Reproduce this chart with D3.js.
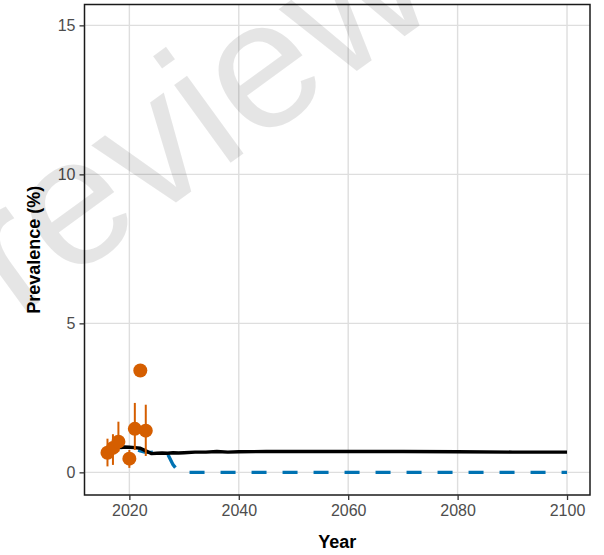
<!DOCTYPE html>
<html>
<head>
<meta charset="utf-8">
<script src="https://cdn.jsdelivr.net/npm/d3@7"></script>
<style>
  html, body { margin: 0; padding: 0; background: #fff; }
  svg { display: block; }
</style>
</head>
<body>
<svg id="chart" width="604" height="555"></svg>
<script>
// ---- data ----
const obsYears  = [2016, 2017, 2018, 2020, 2021, 2022, 2023];
const obsValues = [0.66, 0.82, 1.03, 0.46, 1.46, 3.42, 1.40];
const obsLower  = [0.20, 0.25, 0.70, 0.15, 0.75, 3.42, 0.55];
const obsUpper  = [1.13, 1.28, 1.70, 0.75, 2.33, 3.42, 2.27];

const fitYears  = [2016, 2017, 2018, 2019, 2020, 2021, 2022, 2023, 2024, 2025, 2026, 2027, 2028, 2029, 2030, 2032, 2034, 2036, 2038, 2040, 2045, 2050, 2060, 2070, 2080, 2090, 2100];
const fitValues = [0.78, 0.82, 0.84, 0.85, 0.84, 0.83, 0.81, 0.72, 0.63, 0.64, 0.65, 0.64, 0.66, 0.65, 0.66, 0.68, 0.68, 0.70, 0.68, 0.69, 0.70, 0.70, 0.70, 0.70, 0.69, 0.68, 0.68];

const projYears  = [2016, 2017, 2018, 2019, 2020, 2021, 2022, 2023, 2024, 2025, 2026, 2027, 2028, 2029, 2030, 2040, 2050, 2060, 2070, 2080, 2090, 2100];
const projValues = [0.80, 0.82, 0.83, 0.83, 0.82, 0.78, 0.72, 0.67, 0.67, 0.68, 0.68, 0.62, 0.25, 0.03, 0.00, 0.00, 0.00, 0.00, 0.00, 0.00, 0.00, 0.00];

const xTicks = [2020, 2040, 2060, 2080, 2100];
const yTicks = [0, 5, 10, 15];
const xTitle = "Year";
const yTitle = "Prevalence (%)";
const watermarkText = "Preview";

// ---- layout ----
const svg = d3.select("#chart");
const pLeft = 84.5, pRight = 590, pTop = 4.5, pBottom = 495;
const x = d3.scaleLinear().domain([2011.8, 2104.2]).range([pLeft, pRight]);
const y = d3.scaleLinear().domain([-0.76, 15.7]).range([pBottom, pTop]);
const FONT = "'Liberation Sans', Arial, Helvetica, sans-serif";

// gridlines
const grid = svg.append("g");
grid.selectAll("line.gx").data(xTicks).enter().append("line")
  .attr("x1", d => x(d)).attr("x2", d => x(d))
  .attr("y1", pTop).attr("y2", pBottom)
  .attr("stroke", "#dedede").attr("stroke-width", 1.4);
grid.selectAll("line.gy").data(yTicks).enter().append("line")
  .attr("y1", d => y(d)).attr("y2", d => y(d))
  .attr("x1", pLeft).attr("x2", pRight)
  .attr("stroke", "#dedede").attr("stroke-width", 1.4);

// projection (blue dashed)
const line = d3.line().x(d => x(d[0])).y(d => y(d[1]));
svg.append("path")
  .datum(projYears.map((t, i) => [t, projValues[i]]))
  .attr("d", line)
  .attr("fill", "none")
  .attr("stroke", "#0072B2")
  .attr("stroke-width", 3.4)
  .attr("stroke-dasharray", "15,16");

// fit (black)
svg.append("path")
  .datum(fitYears.map((t, i) => [t, fitValues[i]]))
  .attr("d", line)
  .attr("fill", "none")
  .attr("stroke", "#000")
  .attr("stroke-width", 3.4)
  .attr("stroke-linejoin", "round");

// observed error bars + points
const obs = obsYears.map((t, i) => ({ t, v: obsValues[i], lo: obsLower[i], hi: obsUpper[i] }));
svg.append("g").selectAll("line").data(obs).enter().append("line")
  .attr("x1", d => x(d.t)).attr("x2", d => x(d.t))
  .attr("y1", d => y(d.lo)).attr("y2", d => y(d.hi))
  .attr("stroke", "#D55E00").attr("stroke-width", 2);
svg.append("g").selectAll("circle").data(obs).enter().append("circle")
  .attr("cx", d => x(d.t)).attr("cy", d => y(d.v))
  .attr("r", 7).attr("fill", "#D55E00");

// panel border
svg.append("rect")
  .attr("x", pLeft).attr("y", pTop)
  .attr("width", pRight - pLeft).attr("height", pBottom - pTop)
  .attr("fill", "none").attr("stroke", "#1a1a1a").attr("stroke-width", 1.5);

// axes
const xAxis = svg.append("g").attr("transform", `translate(0,${pBottom})`)
  .call(d3.axisBottom(x).tickValues(xTicks).tickFormat(d3.format("d")).tickSize(5).tickPadding(5));
const yAxis = svg.append("g").attr("transform", `translate(${pLeft},0)`)
  .call(d3.axisLeft(y).tickValues(yTicks).tickFormat(d3.format("d")).tickSize(5).tickPadding(4));
[xAxis, yAxis].forEach(a => {
  a.select(".domain").remove();
  a.selectAll(".tick line").attr("stroke", "#333").attr("stroke-width", 1.3);
  a.selectAll(".tick text").attr("fill", "#4d4d4d").style("font-family", FONT).style("font-size", "16px");
});

// titles
svg.append("text").text(xTitle)
  .attr("x", (pLeft + pRight) / 2).attr("y", 547.5)
  .attr("text-anchor", "middle")
  .style("font-family", FONT).style("font-size", "18px").style("font-weight", "bold")
  .attr("fill", "#000");
svg.append("text").text(yTitle)
  .attr("transform", `translate(39.5,${(pTop + pBottom) / 2}) rotate(-90)`)
  .attr("text-anchor", "middle")
  .style("font-family", FONT).style("font-size", "18px").style("font-weight", "bold")
  .attr("fill", "#000");

// watermark
svg.append("text").text(watermarkText)
  .attr("transform", "translate(-82,390) rotate(-36)")
  .style("font-family", FONT).style("font-size", "182px")
  .attr("fill", "#000").attr("fill-opacity", 0.1);
</script>
</body>
</html>
